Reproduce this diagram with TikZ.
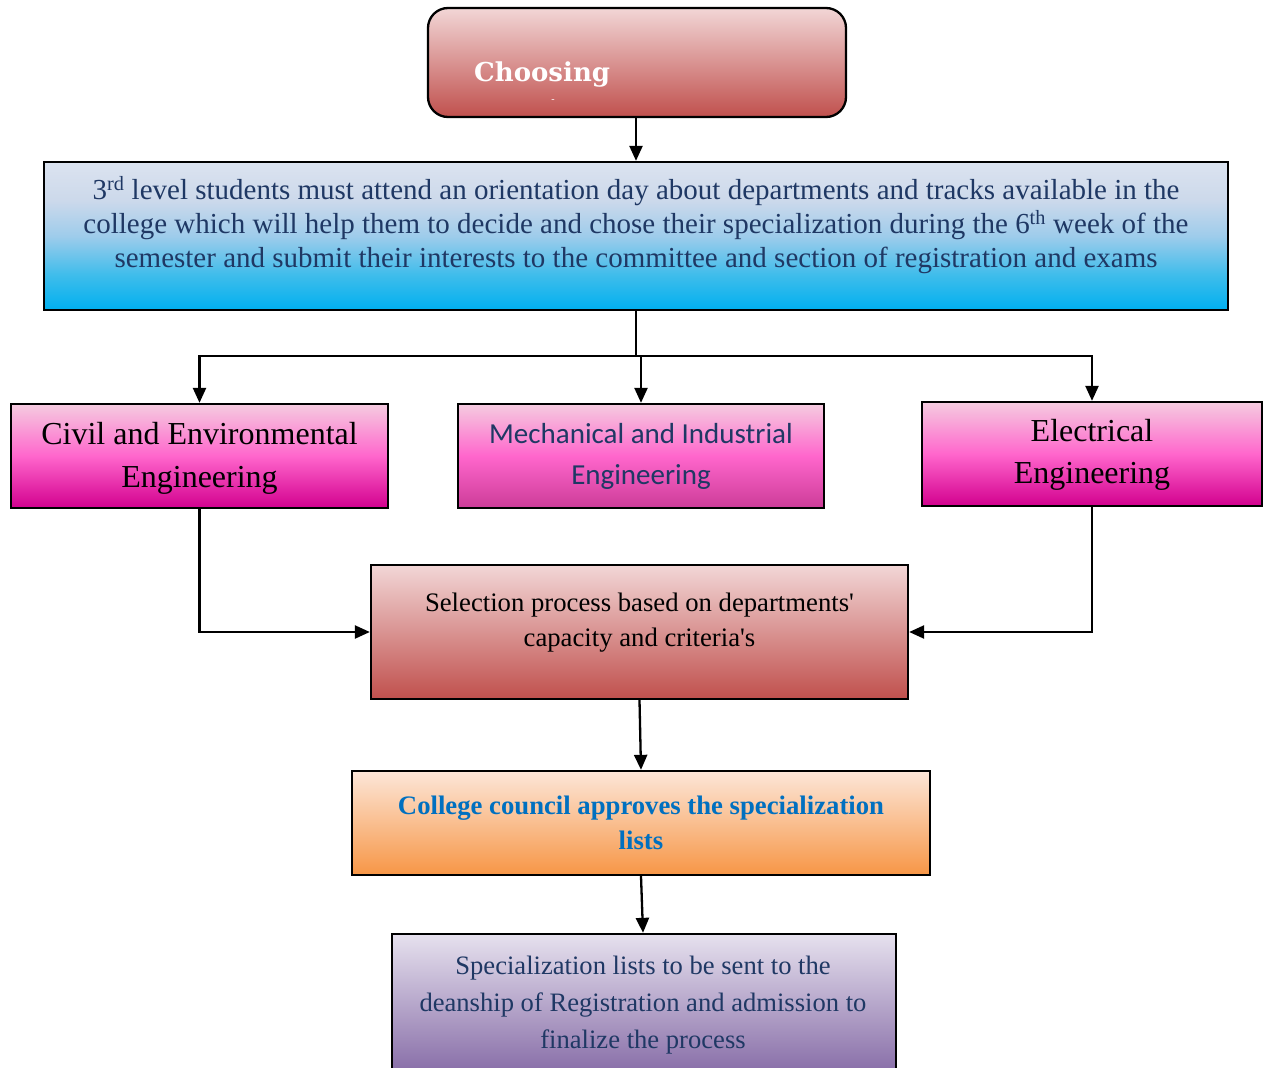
\documentclass[tikz,border=0pt]{standalone}
\usepackage{fontspec}
\setmainfont{Liberation Serif}
\newfontfamily\calib{Carlito}
\newfontfamily\heading{DejaVu Serif}
\usetikzlibrary{arrows.meta}

\definecolor{rosetop}{HTML}{F2D6D6}
\definecolor{rosebot}{HTML}{C0504D}
\definecolor{pinktop}{HTML}{F5CCE0}
\definecolor{pinkmid}{HTML}{FF66CC}
\definecolor{pinkbot}{HTML}{D2008E}
\definecolor{mechbot}{HTML}{CC3C98}
\definecolor{peachtop}{HTML}{FCE6D8}
\definecolor{peachbot}{HTML}{F79646}
\definecolor{liltop}{HTML}{E6E1EE}
\definecolor{lilbot}{HTML}{8064A2}
\definecolor{navy}{HTML}{1F3864}
\definecolor{linkblue}{HTML}{0070C0}

% pale blue-grey on top, turning to cyan towards the bottom
% (the node is fitted into the 25bp..75bp band of the shading)
\pgfdeclareverticalshading{skyfade}{100bp}{
  rgb(0bp)=(0,0.69,0.94);
  rgb(25bp)=(0,0.69,0.94);
  rgb(37bp)=(0.25,0.74,0.92);
  rgb(50bp)=(0.62,0.80,0.92);
  rgb(62bp)=(0.80,0.85,0.92);
  rgb(75bp)=(0.86,0.89,0.94);
  rgb(100bp)=(0.86,0.89,0.94)}

\begin{document}
\begin{tikzpicture}[x=1pt,y=-1pt,
  box/.style={draw=black,line width=2.3pt,rectangle,inner sep=0pt},
  flow/.style={line width=2.3pt,-{Triangle[length=15pt,width=13pt]}},
  wire/.style={line width=2.3pt},
  txt/.style={align=center,inner sep=0pt}]
\useasboundingbox (0,0) rectangle (1267,1068);

% boxes
\node[box,rounded corners=20pt,top color=rosetop,bottom color=rosebot,
      minimum width=418pt,minimum height=109pt] (choose) at (637,62.5) {};
\node[box,shading=skyfade,
      minimum width=1184pt,minimum height=148pt] (orient) at (636,236) {};
\node[box,top color=pinktop,bottom color=pinkbot,middle color=pinkmid,
      minimum width=377pt,minimum height=104pt] (civil) at (199.5,456) {};
\node[box,top color=pinktop,bottom color=mechbot,middle color=pinkmid,
      minimum width=366pt,minimum height=104pt] (mech) at (641,456) {};
\node[box,top color=pinktop,bottom color=pinkbot,middle color=pinkmid,
      minimum width=340pt,minimum height=104pt] (elec) at (1092,454) {};
\node[box,top color=rosetop,bottom color=rosebot,
      minimum width=537pt,minimum height=134pt] (select) at (639.5,632) {};
\node[box,top color=peachtop,bottom color=peachbot,
      minimum width=578pt,minimum height=104pt] (council) at (641,823) {};
\node[box,top color=liltop,bottom color=lilbot,
      minimum width=504pt,minimum height=150pt] (final) at (644,1009) {};

% texts
\node[txt,text=white,anchor=base west,font=\heading\bfseries\fontsize{26}{30}\selectfont]
  (choosetxt) at (474,81) {Choosing};
\node[txt,text=white,font=\fontsize{10}{10}\selectfont] (dash) at (553,101) {-};

\node[txt,text=navy,font=\fontsize{29}{34}\selectfont] (orienttxt) at (636,225)
  {3\textsuperscript{rd} level students must attend an orientation day about departments and tracks available in the\\
   college which will help them to decide and chose their specialization during the 6\textsuperscript{th} week of the\\
   semester and submit their interests to the committee and section of registration and exams};

\node[txt,font=\fontsize{32}{43}\selectfont] (civiltxt) at (199.5,458)
  {Civil and Environmental\\Engineering};
\node[txt,text=navy,font=\calib\fontsize{29}{41}\selectfont] (mechtxt) at (641,456)
  {Mechanical and Industrial\\Engineering};
\node[txt,font=\fontsize{32}{42}\selectfont] (electxt) at (1092,455)
  {Electrical\\Engineering};
\node[txt,font=\fontsize{26.7}{35}\selectfont] (selecttxt) at (639.5,623)
  {Selection process based on departments\textquotesingle\\capacity and criteria\textquotesingle s};
\node[txt,text=linkblue,font=\bfseries\fontsize{26.7}{35}\selectfont] (counciltxt) at (641,823)
  {College council approves the specialization\\lists};
\node[txt,text=navy,font=\fontsize{26.6}{37}\selectfont] (finaltxt) at (643,1005)
  {Specialization lists to be sent to the\\deanship of Registration and admission to\\finalize the process};

% connectors
\draw[flow] (choose.south -| 636,0) -- (orient.north -| 636,0);
\coordinate (split) at (636,356);
\draw[wire] (orient.south -| 636,0) -- (split);
\draw[flow] (split) -| (civil.north);
\draw[flow] (split) -- (split -| mech.north) -- (mech.north);
\draw[flow] (split) -| (elec.north);
\draw[flow] (civil.south) |- (select.west);
\draw[flow] (elec.south) |- (select.east);
\draw[flow] (select.south) -- (council.north);
\draw[flow] (council.south) -- (final.north -| 643,0);
\end{tikzpicture}
\end{document}
